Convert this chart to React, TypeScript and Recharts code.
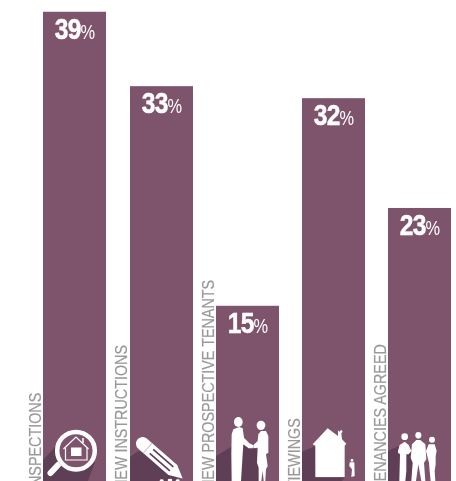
import React from 'react';
import { BarChart, Bar, XAxis, YAxis } from 'recharts';

const categories = ['INSPECTIONS', 'NEW INSTRUCTIONS', 'NEW PROSPECTIVE TENANTS', 'VIEWINGS', 'TENANCIES AGREED'];
const labels = [39, 33, 15, 32, 23];
const heights = [39.1, 32.9, 14.6, 31.9, 22.75];

const data = categories.map((name, i) => ({ name, value: heights[i], label: labels[i] }));

const PURPLE = '#7e546d';
const SHADOW = '#5f3f55';
const WHITE = '#ffffff';
const GREY = '#999999';
const FONT = '"Liberation Sans", Arial, sans-serif';

const MagnifierIcon = () => (
  <g>
    <polygon points="12,-34 0,-21 0,0 45,0 52,-19" fill={SHADOW} />
    <line x1="7.5" y1="-8" x2="15" y2="-16" stroke={WHITE} strokeWidth={6} strokeLinecap="round" />
    <circle cx="33" cy="-30.3" r="21" fill={PURPLE} />
    <circle cx="33" cy="-30.3" r="18.8" fill="none" stroke={WHITE} strokeWidth={4.5} />
    <polyline points="20.5,-32 33,-44 45.5,-32" fill="none" stroke={WHITE} strokeWidth={1.2} />
    <polyline points="22.5,-33 22.5,-21 44,-21 44,-33" fill="none" stroke={WHITE} strokeWidth={1.2} />
    <line x1="40" y1="-43" x2="40" y2="-38" stroke={WHITE} strokeWidth={1.5} />
    <rect x="28" y="-33.5" width="10.5" height="8.5" fill={WHITE} />
  </g>
);

// the icons below are traced at 3x
const PencilIcon = () => (
  <g transform="scale(0.3333) translate(0,-150)">
    <polygon points="25,60 0,78 0,150 150,150 60,70" fill={SHADOW} />
    <g transform="translate(38,38) rotate(41)">
      <path d="M0,-20 H120 L159,0 L120,20 H0 A20,20 0 0 1 0,-20 Z" fill={WHITE} />
      <line x1="20" y1="-20" x2="20" y2="20" stroke="#d8ccd3" strokeWidth={4} />
      <line x1="35" y1="-8" x2="115" y2="-8" stroke={SHADOW} strokeWidth={5} />
      <line x1="35" y1="8" x2="115" y2="8" stroke={SHADOW} strokeWidth={5} />
    </g>
    <ellipse cx="95" cy="148" rx="6" ry="3" fill={WHITE} />
    <ellipse cx="120" cy="147" rx="7" ry="4" fill={WHITE} />
    <ellipse cx="143" cy="148" rx="6" ry="3" fill={WHITE} />
  </g>
);

const HandshakeIcon = () => (
  <g transform="scale(0.3333) translate(0,-210)">
    <polygon points="45,108 0,135 0,210 130,210 125,115 85,100" fill={SHADOW} />
    <ellipse cx="67" cy="33" rx="13" ry="15" fill={WHITE} />
    <path d="M47,70 L52,55 L70,48 L80,52 L84,80 L100,97 L112,103 L110,112 L98,112 L82,100 L80,130 L75,210 L47,210 L46,130 Z" fill={WHITE} />
    <ellipse cx="135" cy="43" rx="13" ry="14" fill={WHITE} />
    <path d="M112,103 L125,90 L127,70 L135,60 L150,60 L157,75 L157,125 L150,130 L155,165 L150,175 L148,210 L143,210 L140,180 L136,210 L128,210 L128,170 L123,155 L125,110 L112,112 Z" fill={WHITE} />
  </g>
);

const HouseIcon = () => (
  <g transform="scale(0.3333) translate(0,-180)">
    <polygon points="40,75 0,92 0,180 120,180 128,170 42,170" fill={SHADOW} />
    <path d="M77,22 L108,45 L108,28 L112,32 L118,26 L122,32 L118,37 L120,55 L133,68 L128,74 L128,168 L40,168 L40,74 L32,70 Z" fill={WHITE} />
    <circle cx="150" cy="118" r="4" fill={WHITE} />
    <path d="M143,124 L157,124 L158,165 L148,168 L150,145 L142,135 Z" fill={WHITE} />
  </g>
);

const GroupIcon = () => (
  <g transform="scale(0.3333) translate(0,-180)">
    <polygon points="32,75 0,90 0,180 80,180 72,90" fill={SHADOW} />
    <circle cx="50" cy="47" r="10" fill={WHITE} />
    <path d="M30,90 L35,72 L50,62 L62,72 L70,90 L62,100 L55,100 L55,150 L52,180 L34,180 L36,100 L30,95 Z" fill={WHITE} />
    <ellipse cx="91" cy="43" rx="9" ry="10" fill={WHITE} />
    <path d="M72,70 L85,57 L97,57 L112,70 L115,115 L108,125 L112,180 L100,180 L91,130 L84,180 L70,180 L74,125 L68,110 Z" fill={WHITE} />
    <circle cx="132" cy="56" r="9" fill={WHITE} />
    <path d="M122,70 L140,70 L146,90 L143,105 L143,130 L140,150 L142,180 L128,180 L125,150 L123,125 L114,90 Z" fill={WHITE} />
  </g>
);

const icons = [MagnifierIcon, PencilIcon, HandshakeIcon, HouseIcon, GroupIcon];

const PercentBar = (props: any) => {
  const { y, width, height, index, payload } = props;
  const x = Math.round(props.x);
  const Icon = icons[index];
  return (
    <g>
      <rect x={x} y={y} width={width} height={height} fill={PURPLE} />
      <g transform={`translate(${x},${y + height})`}>
        <Icon />
      </g>
      <text
        transform={`translate(${x + width / 2 + 0.5},${y + 27}) scale(0.82,1)`}
        textAnchor="middle"
        fill={WHITE}
        fontFamily={FONT}
      >
        <tspan fontSize={30} fontWeight="bold" letterSpacing={-1} stroke={WHITE} strokeWidth={0.5}>
          {payload.label}
        </tspan>
        <tspan fontSize={20}>%</tspan>
      </text>
    </g>
  );
};

const RotatedTick = (props: any) => {
  const { x, payload } = props;
  const tx = x - 33.5;
  return (
    <text
      transform={`translate(${tx},490) rotate(-90) scale(0.83,1)`}
      fill={GREY}
      stroke={GREY}
      strokeWidth={0.2}
      fontSize={17.3}
      fontFamily={FONT}
    >
      {payload.value}
    </text>
  );
};

const App = () => (
  <div style={{ position: 'fixed', left: 0, top: 0, width: 456, height: 481, overflow: 'hidden' }}>
    <BarChart
      width={480}
      height={482}
      data={data}
      barSize={63}
      margin={{ top: 0, right: 17.3, bottom: 0, left: 31.4 }}
    >
      <XAxis
        dataKey="name"
        height={1}
        axisLine={false}
        tickLine={false}
        interval={0}
        tick={<RotatedTick />}
      />
      <YAxis hide domain={[0, 40.08]} />
      <Bar dataKey="value" shape={<PercentBar />} isAnimationActive={false} />
    </BarChart>
  </div>
);

export default App;
